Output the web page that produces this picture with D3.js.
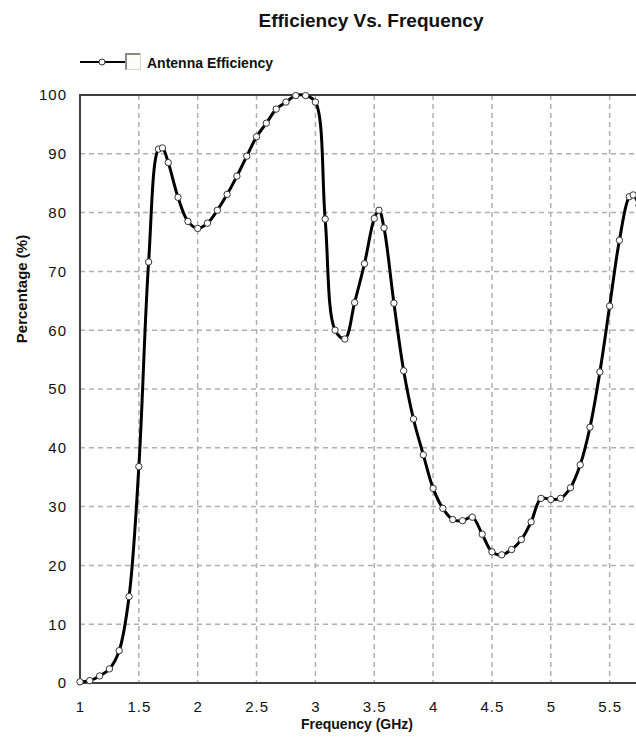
<!DOCTYPE html>
<html>
<head>
<meta charset="utf-8">
<script src="https://d3js.org/d3.v7.min.js"></script>
<style>
  body { margin: 0; background: #fff; }
  svg text { font-family: Arial, "Liberation Sans", sans-serif; fill: #111; }
  .tick text { font-size: 15px; letter-spacing: 1px; }
  .grid line { stroke: #b0b0b0; stroke-width: 1.5; stroke-dasharray: 5,4; }
</style>
</head>
<body>
<div id="chart"></div>
<script>
// frequency (GHz) and efficiency (%)
var freq = [1.0, 1.083, 1.167, 1.25, 1.333, 1.417, 1.5, 1.583, 1.667, 1.70,
            1.75, 1.833, 1.917, 2.0, 2.083, 2.167, 2.25, 2.333, 2.417, 2.5,
            2.583, 2.667, 2.75, 2.833, 2.917, 3.0, 3.083, 3.167, 3.25, 3.333,
            3.417, 3.5, 3.54, 3.583, 3.667, 3.75, 3.833, 3.917, 4.0, 4.083,
            4.167, 4.25, 4.333, 4.417, 4.5, 4.583, 4.667, 4.75, 4.833, 4.917,
            5.0, 5.083, 5.167, 5.25, 5.333, 5.417, 5.5, 5.583, 5.667, 5.70, 5.75];
var eff = [0.2, 0.4, 1.2, 2.4, 5.5, 14.7, 36.8, 71.6, 90.8, 91.0,
           88.5, 82.6, 78.5, 77.3, 78.2, 80.4, 83.1, 86.2, 89.6, 92.9,
           95.2, 97.6, 98.8, 99.9, 99.9, 98.8, 78.9, 60.0, 58.5, 64.7,
           71.3, 79.0, 80.4, 77.4, 64.6, 53.1, 44.9, 38.8, 33.1, 29.7,
           27.8, 27.6, 28.2, 25.3, 22.3, 21.8, 22.7, 24.4, 27.4, 31.4,
           31.2, 31.4, 33.2, 37.1, 43.5, 52.9, 64.1, 75.3, 82.7, 83.0, 81.2];
var xTicks = [1, 1.5, 2, 2.5, 3, 3.5, 4, 4.5, 5, 5.5];
var yTicks = [0, 10, 20, 30, 40, 50, 60, 70, 80, 90, 100];
var titulo = "Efficiency Vs. Frequency";
var serie = "Antenna Efficiency";

var largura = 636, altura = 740;
var margin = {top: 95, left: 80, bottom: 57};
var pxPorGHz = 117.7;

var svg = d3.select('#chart').append('svg')
    .attr('width', largura)
    .attr('height', altura);

var x = d3.scaleLinear()
    .domain([1, 5.75])
    .range([margin.left, margin.left + 4.75 * pxPorGHz]);
var y = d3.scaleLinear()
    .domain([0, 100])
    .range([altura - margin.bottom, margin.top]);

var dados = freq.map((f, i) => ({f: f, e: eff[i]}));

// grade tracejada
var grade = svg.append('g').attr('class', 'grid');
grade.selectAll('.gx')
  .data(xTicks.filter(d => d > 1))
  .enter().append('line')
    .attr('x1', d => x(d)).attr('x2', d => x(d))
    .attr('y1', y(100)).attr('y2', y(0));
grade.selectAll('.gy')
  .data(yTicks.filter(d => d > 0 && d < 100))
  .enter().append('line')
    .attr('x1', x(1)).attr('x2', x(5.75))
    .attr('y1', d => y(d)).attr('y2', d => y(d));

// eixos (so os rotulos)
svg.append('g')
    .attr('transform', 'translate(0,' + y(0) + ')')
    .call(d3.axisBottom(x).tickValues(xTicks).tickSize(0).tickPadding(18).tickFormat(d3.format('')))
    .call(g => g.select('.domain').remove());
svg.append('g')
    .attr('transform', 'translate(' + x(1) + ',0)')
    .call(d3.axisLeft(y).tickValues(yTicks).tickSize(0).tickPadding(13))
    .call(g => g.select('.domain').remove());

// moldura
svg.append('path')
    .attr('d', 'M' + largura + ',' + y(100) + 'H' + x(1) + 'V' + y(0) + 'H' + largura)
    .attr('fill', 'none')
    .attr('stroke', '#404040')
    .attr('stroke-width', 2);

// curva
var linha = d3.line()
    .x(d => x(d.f))
    .y(d => y(d.e))
    .curve(d3.curveCatmullRom);

svg.append('path')
    .datum(dados)
    .attr('d', linha)
    .attr('fill', 'none')
    .attr('stroke', '#000')
    .attr('stroke-width', 3)
    .attr('stroke-linejoin', 'round');

svg.selectAll('.marca')
  .data(dados)
  .enter().append('circle')
    .attr('cx', d => x(d.f))
    .attr('cy', d => y(d.e))
    .attr('r', 3.2)
    .attr('fill', '#fff')
    .attr('stroke', '#333')
    .attr('stroke-width', 1);

// titulos
svg.append('text')
    .attr('x', 371).attr('y', 27)
    .attr('text-anchor', 'middle')
    .style('font-size', '19px').style('font-weight', 'bold')
    .text(titulo);

svg.append('text')
    .attr('x', 357).attr('y', 729)
    .attr('text-anchor', 'middle')
    .style('font-size', '14px').style('font-weight', 'bold')
    .text('Frequency (GHz)');

svg.append('text')
    .attr('transform', 'translate(27,289) rotate(-90)')
    .attr('text-anchor', 'middle')
    .style('font-size', '15px').style('font-weight', 'bold')
    .text('Percentage (%)');

// legenda
var leg = svg.append('g');
leg.append('line')
    .attr('x1', 80).attr('x2', 125).attr('y1', 62).attr('y2', 62)
    .attr('stroke', '#000').attr('stroke-width', 2);
leg.append('circle')
    .attr('cx', 102).attr('cy', 62).attr('r', 3)
    .attr('fill', '#fff').attr('stroke', '#333');
leg.append('rect')
    .attr('x', 125.5).attr('y', 53.5).attr('width', 15).attr('height', 16)
    .attr('fill', '#fcfcfa').attr('stroke', '#d8d6cc');
leg.append('path')
    .attr('d', 'M126,69.5V54H140')
    .attr('fill', 'none').attr('stroke', '#8a8a80').attr('stroke-width', 2);
leg.append('text')
    .attr('x', 147).attr('y', 68)
    .style('font-size', '14px').style('font-weight', 'bold')
    .text(serie);
</script>
</body>
</html>
